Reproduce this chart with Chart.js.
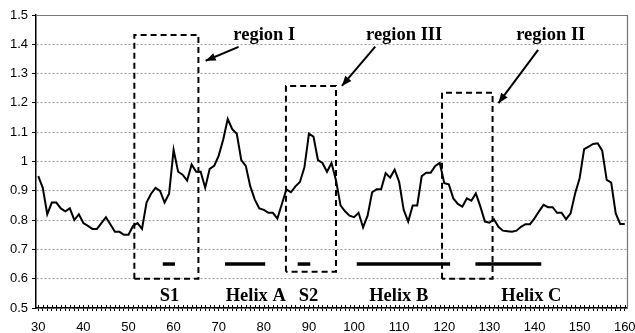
<!DOCTYPE html>
<html>
<head>
<meta charset="utf-8">
<script src="https://cdn.jsdelivr.net/npm/chart.js@4"></script>
<style>
  html, body { margin: 0; padding: 0; background: #fff; }
  #wrap { width: 635px; height: 333px; }
</style>
</head>
<body>
<div id="wrap"><canvas id="c" width="635" height="333"></canvas></div>
<script>
// ---- data ----
const residues = [30,31,32,33,34,35,36,37,38,39,40,41,42,43,44,45,46,47,48,49,50,51,52,53,54,55,56,57,58,59,60,61,62,63,64,65,66,67,68,69,70,71,72,73,74,75,76,77,78,79,80,81,82,83,84,85,86,87,88,89,90,91,92,93,94,95,96,97,98,99,100,101,102,103,104,105,106,107,108,109,110,111,112,113,114,115,116,117,118,119,120,121,122,123,124,125,126,127,128,129,130,131,132,133,134,135,136,137,138,139,140,141,142,143,144,145,146,147,148,149,150,151,152,153,154,155,156,157,158,159,160];
const profile = [0.95,0.91,0.82,0.86,0.86,0.84,0.83,0.84,0.80,0.82,0.79,0.78,0.77,0.77,0.79,0.81,0.785,0.76,0.76,0.75,0.75,0.78,0.79,0.77,0.86,0.89,0.91,0.90,0.86,0.89,1.04,0.965,0.955,0.935,0.99,0.965,0.965,0.91,0.975,0.985,1.02,1.075,1.145,1.11,1.095,1.005,0.985,0.915,0.87,0.84,0.835,0.825,0.825,0.805,0.855,0.905,0.895,0.915,0.93,0.98,1.095,1.085,1.005,0.995,0.965,0.995,0.935,0.85,0.83,0.815,0.81,0.825,0.775,0.815,0.895,0.905,0.905,0.96,0.945,0.972,0.93,0.835,0.795,0.85,0.85,0.95,0.962,0.962,0.985,0.995,0.926,0.922,0.874,0.855,0.846,0.874,0.866,0.891,0.846,0.795,0.791,0.803,0.777,0.764,0.762,0.76,0.764,0.777,0.786,0.786,0.806,0.83,0.852,0.844,0.844,0.825,0.825,0.803,0.823,0.891,0.943,1.042,1.051,1.06,1.062,1.037,0.937,0.928,0.823,0.787,0.787];
const xTickLabels = ['30','40','50','60','70','80','90','100','110','120','130','140','150','160'];
const yTickValues = [0.5,0.6,0.7,0.8,0.9,1.0,1.1,1.2,1.3,1.4,1.5];
const yTickLabels = ['0.5','0.6','0.7','0.8','0.9','1','1.1','1.2','1.3','1.4','1.5'];

const segNames = ['S1','Helix A','S2','Helix B','Helix C'];
const segStart = [57.6,71.4,87.5,100.6,126.9];
const segEnd   = [60.3,80.3,90.3,121.3,141.5];
const segLevel = 0.65;

const regionNames = ['region I','region III','region II'];
const regionLeft  = [51.3,84.9,119.5];
const regionRight = [65.5,96.0,130.7];
const regionLow   = [0.60,0.624,0.60];
const regionHigh  = [1.432,1.258,1.235];
const arrowFromX = [74.4,104.7,140.8];
const arrowFromY = [1.391,1.392,1.381];
const arrowToX   = [67.1,97.3,132.0];
const arrowToY   = [1.344,1.258,1.199];

// ---- label anchors (data coordinates) ----
const regionLabelX = [80.1,111.1,143.6];
const regionLabelY = 1.43;
const segLabelX = [59.1,78.2,89.9,109.9,139.3];
const segLabelY = 0.54;

// ---- datasets ----
const datasets = [];
datasets.push({
  data: residues.map((r,i)=>({x:r,y:profile[i]})),
  borderColor:'#000', borderWidth:2, pointRadius:0, tension:0, fill:false
});
for (let i=0;i<segNames.length;i++){
  datasets.push({
    data:[{x:segStart[i],y:segLevel},{x:segEnd[i],y:segLevel}],
    borderColor:'#000', borderWidth:3.5, pointRadius:0, borderCapStyle:'butt'
  });
}
for (let i=0;i<regionNames.length;i++){
  datasets.push({
    data:[{x:regionLeft[i],y:regionLow[i]},{x:regionLeft[i],y:regionHigh[i]},{x:regionRight[i],y:regionHigh[i]},{x:regionRight[i],y:regionLow[i]},{x:regionLeft[i],y:regionLow[i]}],
    borderColor:'#000', borderWidth:2, borderDash:[6,4], pointRadius:0, tension:0
  });
  datasets.push({
    data:[{x:arrowFromX[i],y:arrowFromY[i]},{x:arrowToX[i],y:arrowToY[i]}],
    borderColor:'#000', borderWidth:2, pointRadius:0
  });
}

const decor = {
  id:'decor',
  beforeDatasetsDraw(chart){
    const {ctx, chartArea:a, scales:{x}} = chart;
    ctx.save();
    ctx.strokeStyle='#777'; ctx.lineWidth=1.2;
    ctx.beginPath();
    ctx.moveTo(a.left, a.top+0.5); ctx.lineTo(a.right+0.5, a.top+0.5);
    ctx.lineTo(a.right+0.5, a.bottom);
    ctx.stroke();
    // upper halves of the x tick marks (they cross the axis)
    ctx.strokeStyle='#000'; ctx.lineWidth=1;
    ctx.beginPath();
    for (const r of residues){
      const px=Math.round(x.getPixelForValue(r))+0.5;
      ctx.moveTo(px, a.bottom-3); ctx.lineTo(px, a.bottom);
    }
    ctx.stroke();
    ctx.restore();
  },
  afterDatasetsDraw(chart){
    const {ctx, scales:{x,y}} = chart;
    ctx.save();
    ctx.fillStyle='#000';
    for (let i=0;i<arrowToX.length;i++){
      const x1=x.getPixelForValue(arrowFromX[i]), y1=y.getPixelForValue(arrowFromY[i]);
      const x2=x.getPixelForValue(arrowToX[i]), y2=y.getPixelForValue(arrowToY[i]);
      const ang=Math.atan2(y2-y1,x2-x1);
      const L=10, W=4;
      ctx.beginPath();
      ctx.moveTo(x2,y2);
      ctx.lineTo(x2-L*Math.cos(ang)+W*Math.sin(ang), y2-L*Math.sin(ang)-W*Math.cos(ang));
      ctx.lineTo(x2-L*Math.cos(ang)-W*Math.sin(ang), y2-L*Math.sin(ang)+W*Math.cos(ang));
      ctx.closePath(); ctx.fill();
    }
    ctx.font='bold 18.5px "Liberation Serif", "Times New Roman", serif';
    ctx.textAlign='center'; ctx.textBaseline='middle'; ctx.fillStyle='#000';
    for (let i=0;i<regionNames.length;i++){
      ctx.fillText(regionNames[i], x.getPixelForValue(regionLabelX[i]), y.getPixelForValue(regionLabelY));
    }
    for (let i=0;i<segNames.length;i++){
      ctx.fillText(segNames[i], x.getPixelForValue(segLabelX[i]), y.getPixelForValue(segLabelY));
    }
    ctx.restore();
  }
};

new Chart(document.getElementById('c'), {
  type:'line',
  data:{datasets},
  plugins:[decor],
  options:{
    responsive:false, animation:false, devicePixelRatio:1,
    layout:{padding:{top:15,right:8,left:0,bottom:0}},
    plugins:{legend:{display:false}, tooltip:{enabled:false}},
    scales:{
      x:{
        type:'linear', min:29.5, max:160.5,
        afterBuildTicks(s){ s.ticks = residues.map(v=>({value:v})); },
        afterFit(s){ s.height=25; s.paddingLeft=0; s.paddingRight=0; },
        ticks:{
          autoSkip:false, maxRotation:0, minRotation:0, padding:9,
          color:'#000', font:{family:'"Liberation Sans", Arial, sans-serif', size:13},
          callback(v){ const k=xTickLabels.indexOf(String(v)); return k>=0 ? xTickLabels[k] : ''; }
        },
        grid:{display:true, drawOnChartArea:false, drawTicks:true, tickLength:3, tickColor:'#000', tickWidth:1},
        border:{display:true, color:'#000', width:1.5}
      },
      y:{
        type:'linear', min:0.5, max:1.5,
        afterBuildTicks(s){ s.ticks = yTickValues.map(v=>({value:v})); },
        afterFit(s){ s.width=36; s.paddingTop=0; s.paddingBottom=0; },
        ticks:{
          padding:4, color:'#000', font:{family:'"Liberation Sans", Arial, sans-serif', size:13},
          callback(v){ const k=yTickValues.findIndex(t=>Math.abs(t-v)<1e-6); return k>=0 ? yTickLabels[k] : ''; }
        },
        grid:{display:true, drawOnChartArea:true, color:(c)=> (c.tick && c.tick.value>=1.49) ? 'rgba(0,0,0,0)' : '#999', lineWidth:1, drawTicks:true, tickLength:4, tickColor:'#000'},
        border:{display:true, color:'#000', width:1.5, dash:[2,2]}
      }
    }
  }
});
</script>
</body>
</html>
